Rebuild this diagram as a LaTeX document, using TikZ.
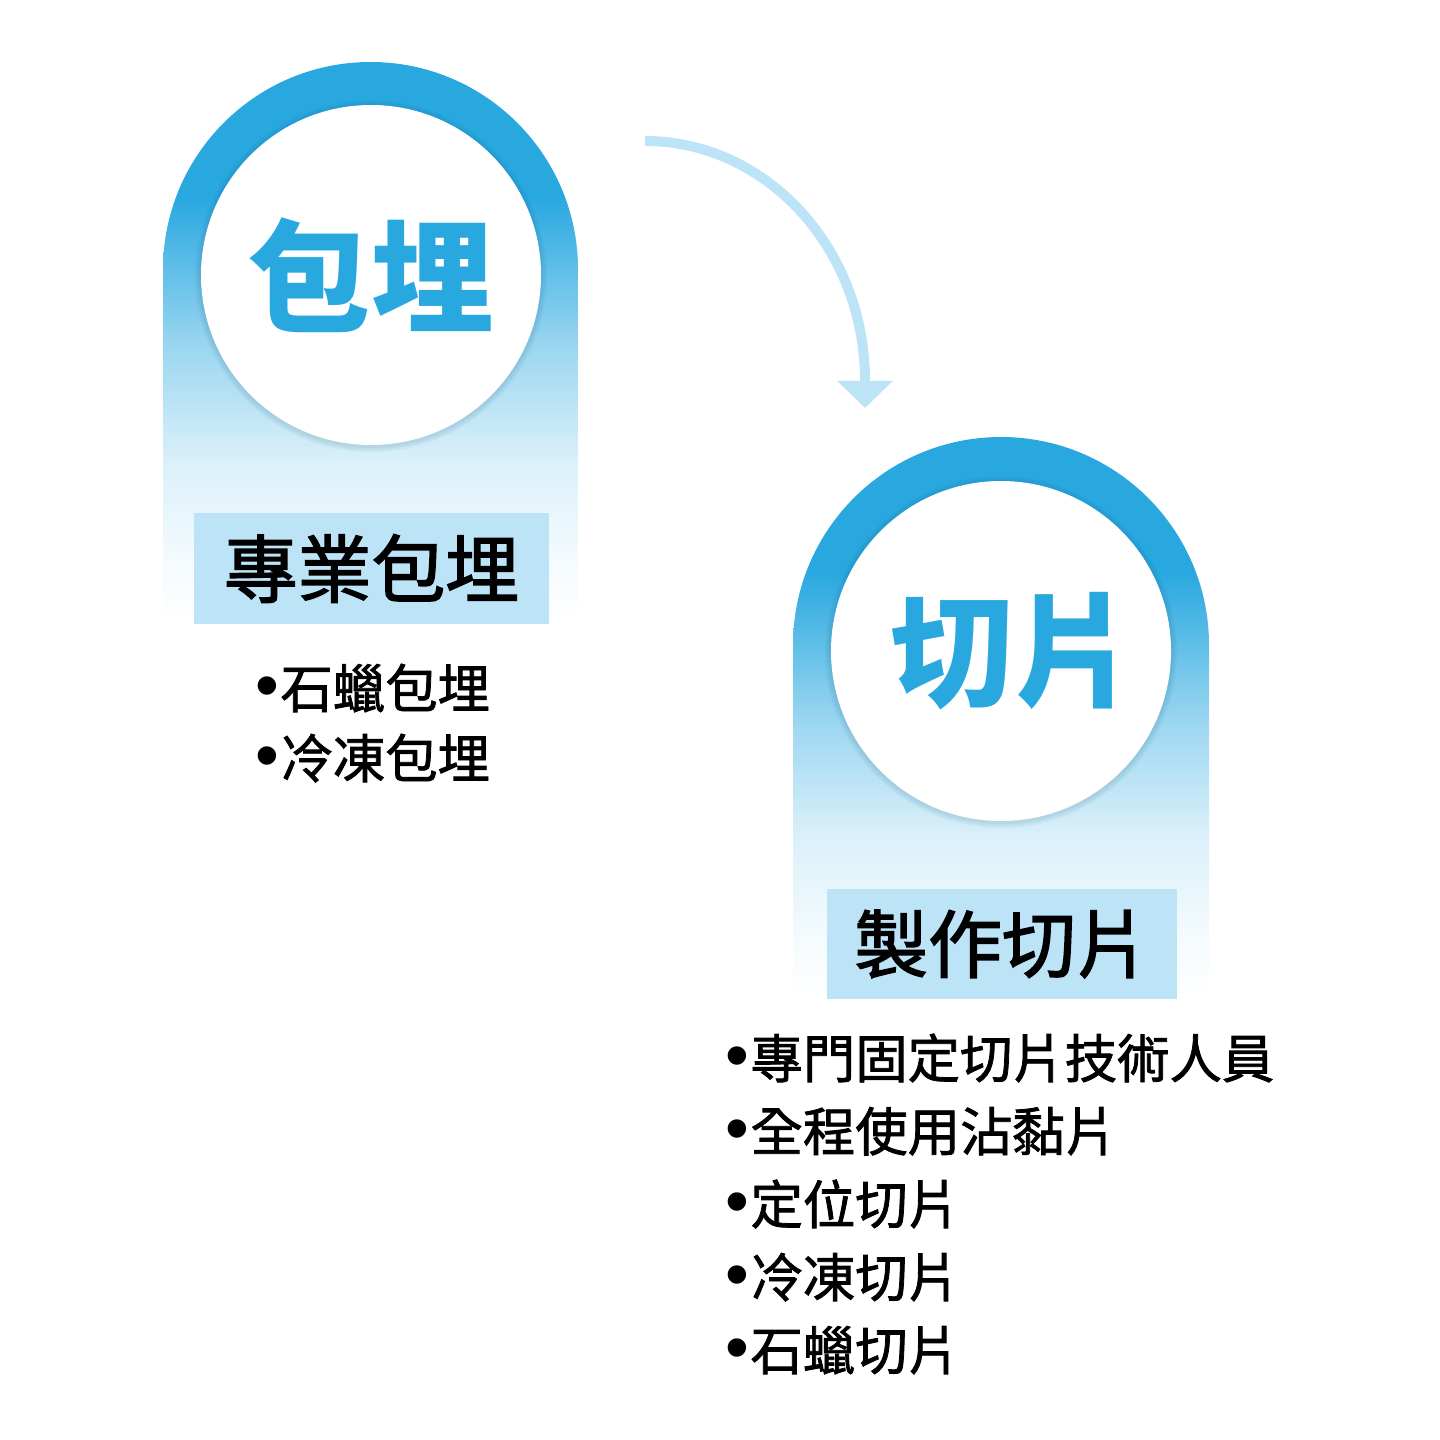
\documentclass[tikz,border=0pt]{standalone}
\usepackage{fontspec}
\setmainfont{Noto Sans CJK TC}
\newfontfamily\labelfont{Noto Sans CJK TC}[FakeBold=2]
\newfontfamily\listfont{Noto Sans CJK TC}[FakeBold=1.5]
\newfontfamily\dotfont{Liberation Sans}
\newcommand\itemdot{{\dotfont\fontsize{19.3pt}{19.3pt}\selectfont •}\kern0.15mm}
\usetikzlibrary{arrows.meta}
\definecolor{stepblue}{RGB}{41,168,224}
\definecolor{labelblue}{RGB}{189,227,247}
\colorlet{fadeA}{white!95!stepblue}
\colorlet{fadeB}{white!83!stepblue}
\colorlet{fadeC}{white!54!stepblue}
\pgfdeclareverticalshading{panelfade}{100bp}{color(0bp)=(white); color(25bp)=(white); color(30.6bp)=(fadeA); color(39.5bp)=(fadeB); color(49.5bp)=(fadeC); color(63bp)=(stepblue); color(100bp)=(stepblue)}

\begin{document}
\begin{tikzpicture}[x=0.1mm, y=0.1mm,
  panel/.style={shading=panelfade},
  disc/.style={circle, fill=white, minimum size=34mm, inner sep=0pt, text=stepblue,
    font=\fontsize{35pt}{35pt}\selectfont\bfseries},
  labelbox/.style={fill=labelblue, minimum width=35.5mm, minimum height=11.1mm, inner sep=0pt,
    font=\fontsize{21pt}{21pt}\labelfont},
  item/.style={anchor=base west, inner sep=0pt, font=\fontsize{14.9pt}{14.9pt}\listfont}]
  \useasboundingbox (0,0) rectangle (1440,-1440);
  % panels
  \shade[panel] (163,-625) -- (163,-269.5) arc[start angle=180, end angle=0, radius=207.5] -- (578,-625) -- cycle;
  \shade[panel] (793,-1000) -- (793,-645) arc[start angle=180, end angle=0, radius=208] -- (1209,-1000) -- cycle;
  % soft shadow round the discs
  \foreach \cx/\cy in {371/-275, 1001/-651}
    \foreach \r in {176,174,172}
      \fill[stepblue!50!black, opacity=0.05] (\cx,\cy-1) circle (\r);
  \node[disc] (bao) at (371,-275) {包埋};
  \node[disc] (cut) at (1001,-651) {\hspace*{2.4mm}切片};
  \node[labelbox] (baolabel) at (371.5,-568.5) {專業包埋};
  \node[labelbox, minimum width=35mm, minimum height=11mm] (cutlabel) at (1002,-944) {製作切片};
  % lists
  \foreach \t [count=\i] in {石蠟包埋, 冷凍包埋}
    \node[item] (baoitem\i) at (254.6,{-638-70*\i}) {\itemdot\t};
  \foreach \t [count=\i] in {專門固定切片技術人員, 全程使用沾黏片, 定位切片, 冷凍切片, 石蠟切片}
    \node[item] (cutitem\i) at (724.6,{-1005-73*\i}) {\itemdot\t};
  % arrow
  \coordinate (arrowstart) at (645,-141);
  \coordinate (arrowend) at (865,-408);
  \draw[labelblue, line width=1mm, -{Triangle[width=5.4mm, length=2.7mm]}]
    (arrowstart) arc[start angle=90, end angle=0, x radius=220, y radius=240] -- (arrowend);
\end{tikzpicture}
\end{document}
